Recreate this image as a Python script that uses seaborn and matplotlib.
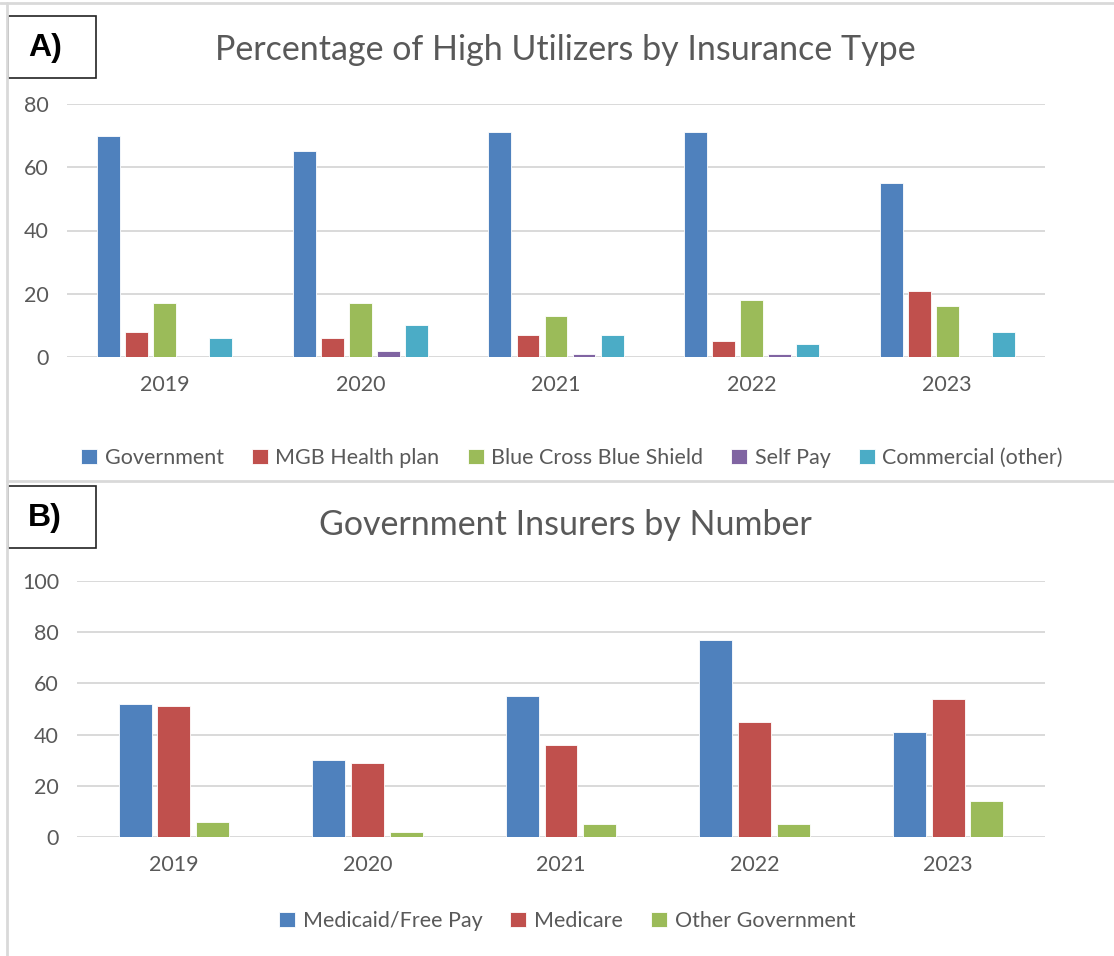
import matplotlib
matplotlib.use("Agg")
import matplotlib.pyplot as plt
from matplotlib.lines import Line2D
from matplotlib.patches import Rectangle
import pandas as pd
import seaborn as sns

years = ["2019", "2020", "2021", "2022", "2023"]

# Panel A: percentage of high utilizers by insurance type
insurance_types = ["Government", "MGB Health plan", "Blue Cross Blue Shield", "Self Pay", "Commercial (other)"]
government = [70, 65, 71, 71, 55]
mgb_health_plan = [8, 6, 7, 5, 21]
blue_cross = [17, 17, 13, 18, 16]
self_pay = [0, 2, 1, 1, 0]
commercial_other = [6, 10, 7, 4, 8]

# Panel B: government insurers by number
gov_insurers = ["Medicaid/Free Pay", "Medicare", "Other Government"]
medicaid = [52, 30, 55, 77, 41]
medicare = [51, 29, 36, 45, 54]
other_gov = [6, 2, 5, 5, 14]

colors_a = ["#4F81BD", "#C0504D", "#9BBB59", "#8064A2", "#4BACC6"]
colors_b = ["#4F81BD", "#C0504D", "#9BBB59"]
GRID = "#D9D9D9"
TEXT = "#595959"

df_a = pd.DataFrame({
    "year": years * 5,
    "type": [t for t in insurance_types for _ in years],
    "value": government + mgb_health_plan + blue_cross + self_pay + commercial_other,
})
df_b = pd.DataFrame({
    "year": years * 3,
    "type": [t for t in gov_insurers for _ in years],
    "value": medicaid + medicare + other_gov,
})

sns.set_theme(style="white")
plt.rcParams["font.family"] = ["Lato", "DejaVu Sans"]

W, H = 1114, 956
fig = plt.figure(figsize=(W / 100, H / 100), dpi=100)


def px_axes(x0, y0, x1, y1):
    return fig.add_axes([x0 / W, 1 - y1 / H, (x1 - x0) / W, (y1 - y0) / H])


def fig_line(x0, y0, x1, y1):
    fig.lines.append(Line2D([x0 / W, x1 / W], [1 - y0 / H, 1 - y1 / H], transform=fig.transFigure,
                            color=GRID, linewidth=2))


def style_axis(ax, ymax, step):
    ax.set_ylim(0, ymax)
    ax.set_xlim(-0.5, 4.5)
    ax.set_yticks(range(0, ymax + 1, step))
    ax.yaxis.grid(True, color=GRID, linewidth=1.4)
    ax.set_axisbelow(True)
    for s in ax.spines.values():
        s.set_visible(False)
    ax.tick_params(axis="both", length=0, labelsize=15.5, labelcolor=TEXT)
    ax.tick_params(axis="y", pad=13)
    ax.tick_params(axis="x", pad=13)
    ax.set_xlabel("")
    ax.set_ylabel("")


# panel frames
fig_line(0, 3, W, 3)
fig_line(7, 3, 7, H)
fig_line(7, 481, W, 481)

# Panel A
ax_a = px_axes(67, 104, 1045, 357)
sns.barplot(data=df_a, x="year", y="value", hue="type", palette=colors_a, ax=ax_a,
            width=0.716, gap=0.18, saturation=1, errorbar=None, legend=True,
            edgecolor="white", linewidth=0.6)
style_axis(ax_a, 80, 20)
handles, labels = ax_a.get_legend_handles_labels()
ax_a.get_legend().remove()
fig.legend(handles, labels, loc="center", bbox_to_anchor=(572 / W, 1 - 458 / H), ncol=5,
           frameon=False, fontsize=15.5, labelcolor=TEXT, handlelength=0.75, handleheight=0.75,
           handletextpad=0.35, columnspacing=1.3)
fig.text(565 / W, 1 - 50 / H, "Percentage of High Utilizers by Insurance Type",
         ha="center", va="center", fontsize=24.5, color=TEXT)

# Panel B
ax_b = px_axes(77, 581, 1045, 837)
sns.barplot(data=df_b, x="year", y="value", hue="type", palette=colors_b, ax=ax_b,
            width=0.60, gap=0.15, saturation=1, errorbar=None, legend=True,
            edgecolor="white", linewidth=0.6)
style_axis(ax_b, 100, 20)
handles, labels = ax_b.get_legend_handles_labels()
ax_b.get_legend().remove()
fig.legend(handles, labels, loc="center", bbox_to_anchor=(567 / W, 1 - 921 / H), ncol=3,
           frameon=False, fontsize=15.5, labelcolor=TEXT, handlelength=0.75, handleheight=0.75,
           handletextpad=0.35, columnspacing=1.3)
fig.text(565 / W, 1 - 525 / H, "Government Insurers by Number",
         ha="center", va="center", fontsize=24.5, color=TEXT)

# panel labels in boxes
for label, top in [("A)", 16), ("B)", 486)]:
    fig.patches.append(Rectangle((8 / W, 1 - (top + 62) / H), 88 / W, 62 / H, transform=fig.transFigure,
                                 facecolor="white", edgecolor="#222222", linewidth=1.2))
    fig.text(45 / W, 1 - (top + 32) / H, label, ha="center", va="center", fontsize=23,
             fontweight="bold", family=["Liberation Sans", "DejaVu Sans"], color="black")

fig.savefig("out.png", dpi=100)
